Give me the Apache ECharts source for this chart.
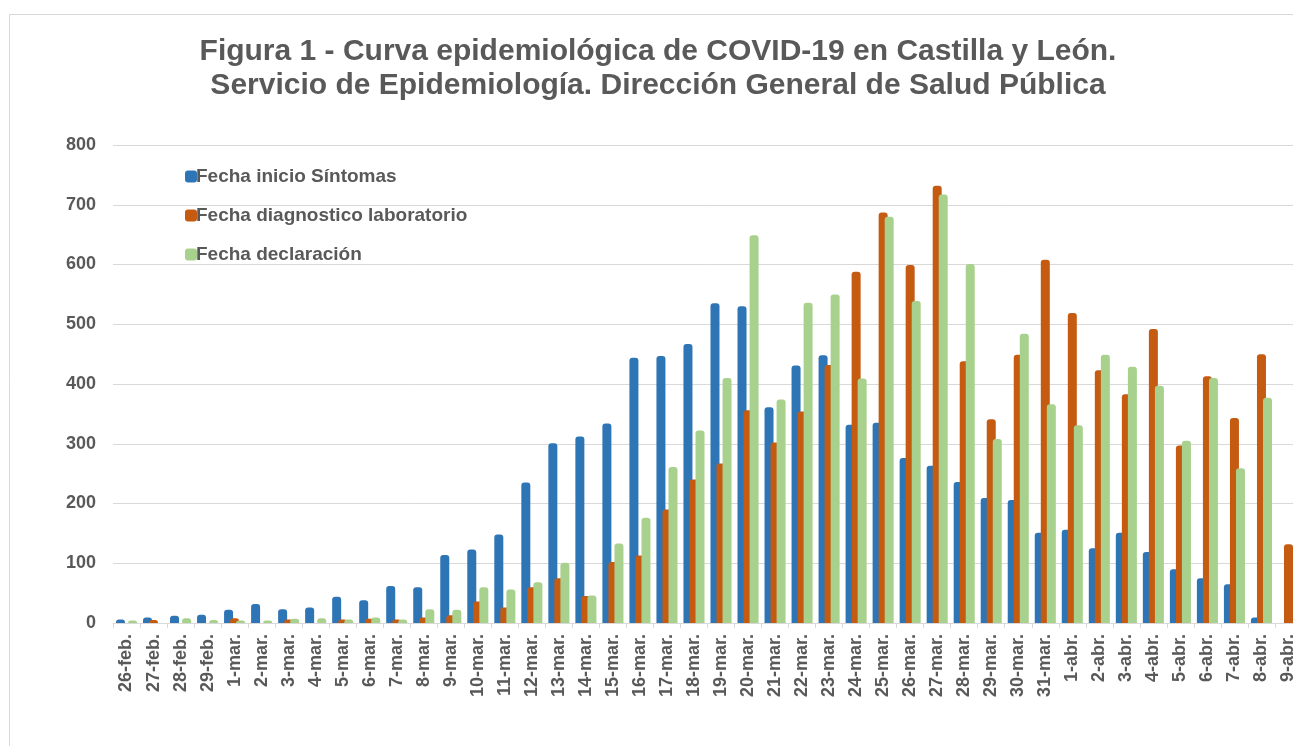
<!DOCTYPE html>
<html lang="es">
<head>
    <meta charset="UTF-8">
    <title>Figura 1 - Curva epidemiológica COVID-19 Castilla y León</title>
    <script src="https://cdn.jsdelivr.net/npm/echarts@6/dist/echarts.min.js"></script>
    <style>
        html, body { margin: 0; padding: 0; background: #fff; overflow: hidden; }
        /* el gráfico original está recortado por la derecha */
        #main { width: 1302px; height: 746px; }
    </style>
</head>
<body>
    <div id="main"></div>
    <script type="text/javascript">
        // fechas (eje X)
        var fechas = ['26-feb.', '27-feb.', '28-feb.', '29-feb.',
            '1-mar.', '2-mar.', '3-mar.', '4-mar.', '5-mar.', '6-mar.', '7-mar.', '8-mar.', '9-mar.', '10-mar.',
            '11-mar.', '12-mar.', '13-mar.', '14-mar.', '15-mar.', '16-mar.', '17-mar.', '18-mar.', '19-mar.', '20-mar.',
            '21-mar.', '22-mar.', '23-mar.', '24-mar.', '25-mar.', '26-mar.', '27-mar.', '28-mar.', '29-mar.', '30-mar.', '31-mar.',
            '1-abr.', '2-abr.', '3-abr.', '4-abr.', '5-abr.', '6-abr.', '7-abr.', '8-abr.', '9-abr.'];

        var inicioSintomas = [6, 9, 12, 14, 22, 32, 23, 26, 44, 38, 62, 60, 114, 123,
            148, 235, 301, 312, 334, 444, 447, 467, 535, 530,
            361, 431, 448, 332, 335, 276, 263, 236, 209, 206, 151,
            156, 125, 151, 119, 90, 75, 65, 9, 0];

        var diagLaboratorio = [0, 5, 0, 0, 8, 0, 6, 0, 6, 7, 6, 9, 13, 36,
            26, 60, 75, 45, 102, 113, 190, 240, 267, 356,
            302, 354, 432, 588, 687, 599, 732, 438, 341, 449, 608,
            519, 423, 383, 492, 297, 413, 343, 450, 132];

        var declaracion = [4, 0, 8, 5, 4, 4, 7, 8, 6, 9, 6, 23, 22, 60,
            56, 68, 101, 46, 133, 176, 261, 322, 410, 649,
            374, 536, 550, 409, 680, 539, 717, 601, 308, 484, 366,
            331, 449, 429, 397, 305, 410, 259, 377, null];

        var yTicks = [0, 100, 200, 300, 400, 500, 600, 700, 800];

        var gris = '#595959';
        var fuente = 'Liberation Sans, Arial, sans-serif';
        var myChart = echarts.init(document.getElementById('main'));

        function serie(nombre, datos, color) {
            return {
                name: nombre,
                type: 'bar',
                data: datos,
                barWidth: 9,
                barGap: '-33%',
                itemStyle: {
                    color: color,
                    borderRadius: [3, 3, 0, 0]
                }
            };
        }

        var option = {
            animation: false,
            backgroundColor: '#ffffff',
            graphic: [{
                type: 'rect',
                shape: { x: 9.5, y: 14.5, width: 1400, height: 800 },
                style: { fill: 'none', stroke: '#d9d9d9', lineWidth: 1 },
                silent: true,
                z: -10
            }],
            title: {
                text: 'Figura 1 - Curva epidemiológica de COVID-19 en Castilla y León.\nServicio de Epidemiología. Dirección General de Salud Pública',
                left: 653,
                textAlign: 'center',
                top: 30,
                textStyle: {
                    fontFamily: fuente,
                    fontSize: 30,
                    fontWeight: 'bold',
                    color: gris,
                    lineHeight: 34
                }
            },
            legend: {
                orient: 'vertical',
                left: 180,
                top: 162,
                itemGap: 20,
                itemWidth: 12,
                itemHeight: 12,
                icon: 'roundRect',
                data: ['Fecha inicio Síntomas', 'Fecha diagnostico laboratorio', 'Fecha declaración'],
                textStyle: {
                    fontFamily: fuente,
                    fontSize: 19,
                    lineHeight: 19,
                    fontWeight: 'bold',
                    color: gris,
                    padding: [0, 0, 0, -6]
                }
            },
            grid: {
                left: 113,
                right: 0,
                top: 145,
                bottom: 123,
                containLabel: false
            },
            xAxis: {
                type: 'category',
                data: fechas,
                axisLine: { lineStyle: { color: '#d9d9d9', width: 1 } },
                axisTick: { show: true, length: 5, lineStyle: { color: '#d9d9d9' } },
                axisLabel: {
                    rotate: 90,
                    interval: 0,
                    margin: 11,
                    fontFamily: fuente,
                    fontSize: 18,
                    fontWeight: 'bold',
                    color: gris
                }
            },
            yAxis: {
                type: 'value',
                min: yTicks[0],
                max: yTicks[yTicks.length - 1],
                interval: 100,
                axisLine: { show: false },
                axisTick: { show: false },
                splitLine: { lineStyle: { color: '#d9d9d9', width: 1 } },
                axisLabel: {
                    margin: 17,
                    fontFamily: fuente,
                    fontSize: 18,
                    fontWeight: 'bold',
                    color: gris
                }
            },
            series: [
                serie('Fecha inicio Síntomas', inicioSintomas, '#2e75b6'),
                serie('Fecha diagnostico laboratorio', diagLaboratorio, '#c55a11'),
                serie('Fecha declaración', declaracion, '#a9d18e')
            ]
        };

        myChart.setOption(option, true);
    </script>
</body>
</html>
